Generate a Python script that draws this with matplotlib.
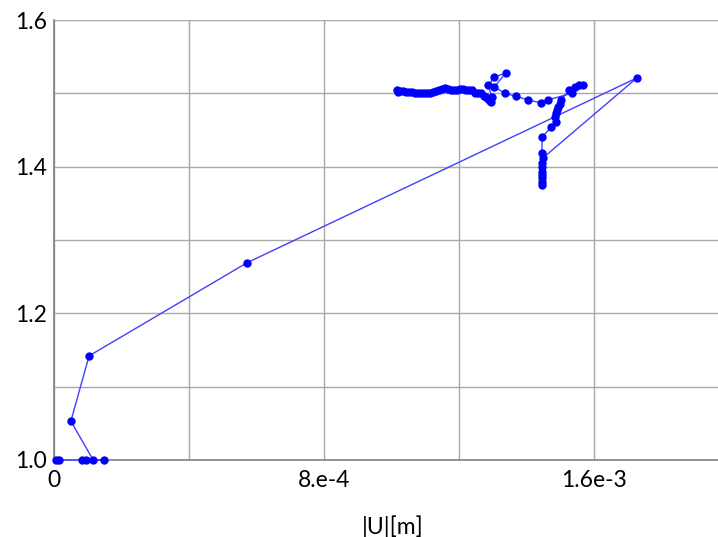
import matplotlib
matplotlib.use("Agg")
import matplotlib.pyplot as plt
import numpy as np

plt.rcParams['font.family'] = ['Lato', 'DejaVu Sans']

# displacement |U| [m] and load factor (path order)
u_disp = [
    5e-6, 1.5e-5, 8.3e-5, 9.5e-5, 1.48e-4, 1.16e-4,
    5.0e-5, 1.04e-4, 5.72e-4, 1.727e-3,
    1.449e-3, 1.446e-3, 1.446e-3, 1.446e-3, 1.446e-3, 1.446e-3, 1.446e-3, 1.446e-3,
    1.446e-3, 1.446e-3,
    1.473e-3, 1.487e-3, 1.484e-3, 1.487e-3, 1.489e-3, 1.494e-3, 1.499e-3, 1.502e-3,
    1.527e-3, 1.544e-3, 1.556e-3, 1.566e-3, 1.534e-3,
    1.463e-3, 1.443e-3, 1.404e-3, 1.369e-3, 1.336e-3,
    1.305e-3, 1.339e-3, 1.305e-3, 1.287e-3, 1.297e-3,
    1.2948e-3, 1.2919e-3, 1.2859e-3, 1.2800e-3, 1.2741e-3, 1.2652e-3, 1.2563e-3,
    1.2474e-3, 1.2385e-3, 1.2296e-3, 1.2207e-3, 1.2119e-3, 1.2030e-3, 1.1941e-3,
    1.1852e-3, 1.1763e-3, 1.1674e-3, 1.1585e-3, 1.1496e-3, 1.1407e-3, 1.1319e-3,
    1.1230e-3, 1.1141e-3, 1.1052e-3, 1.0963e-3, 1.0874e-3, 1.0785e-3, 1.0696e-3,
    1.0607e-3, 1.0519e-3, 1.0430e-3, 1.0341e-3, 1.0252e-3, 1.0193e-3, 1.0163e-3,
]
load_factor = [
    1.0, 1.0, 1.0, 1.0, 1.0, 1.0,
    1.053, 1.142, 1.269, 1.521,
    1.412, 1.405, 1.400, 1.393, 1.389, 1.385, 1.379, 1.375,
    1.419, 1.440,
    1.454, 1.461, 1.468, 1.473, 1.477, 1.482, 1.486, 1.491,
    1.504, 1.509, 1.511, 1.511, 1.500,
    1.491, 1.487, 1.491, 1.496, 1.500,
    1.509, 1.528, 1.522, 1.511, 1.495,
    1.488, 1.490, 1.492, 1.495, 1.497, 1.500, 1.501,
    1.501, 1.504, 1.504, 1.505, 1.506, 1.506, 1.505,
    1.505, 1.505, 1.506, 1.507, 1.506, 1.505, 1.503,
    1.502, 1.501, 1.500, 1.500, 1.500, 1.501, 1.501,
    1.502, 1.502, 1.502, 1.503, 1.503, 1.502, 1.504,
]

x_ticks = [0, 8e-4, 1.6e-3]
x_tick_labels = ['0', '8.e-4', '1.6e-3']
y_ticks = [1.0, 1.2, 1.4, 1.6]
y_tick_labels = ['1.0', '1.2', '1.4', '1.6']

fig = plt.figure(figsize=(7.18, 5.37), dpi=100)
ax = fig.add_axes([54 / 718, 77 / 537, 664 / 718, 440 / 537])

ax.plot(u_disp, load_factor, color='#4040ff', linewidth=1.0,
        marker='o', markersize=5, markerfacecolor='#0000ff',
        markeredgecolor='#0000ff', clip_on=False, zorder=3)

ax.set_xlim(0, 664 / 135 * 4e-4)
ax.set_ylim(1.0, 1.6)

# grid every half-step, labels on every other line
ax.set_xticks(np.arange(0, 2e-3, 4e-4), minor=True)
ax.set_yticks(np.arange(1.0, 1.61, 0.1), minor=True)
ax.set_xticks(x_ticks)
ax.set_xticklabels(x_tick_labels)
ax.set_yticks(y_ticks)
ax.set_yticklabels(y_tick_labels)
ax.grid(True, which='both', color='#a8a8a8', linewidth=1.0)
ax.tick_params(which='both', length=0, labelsize=16.5, pad=7)
ax.tick_params(axis='y', pad=5)

for side in ['top', 'right']:
    ax.spines[side].set_visible(False)
for side in ['left', 'bottom']:
    ax.spines[side].set_color('#808080')
    ax.spines[side].set_linewidth(1.2)

ax.set_xlabel('|U|[m]', fontsize=16.5, labelpad=17)
ax.xaxis.set_label_coords(0.51, -0.125)

fig.savefig('out.png', dpi=100)
